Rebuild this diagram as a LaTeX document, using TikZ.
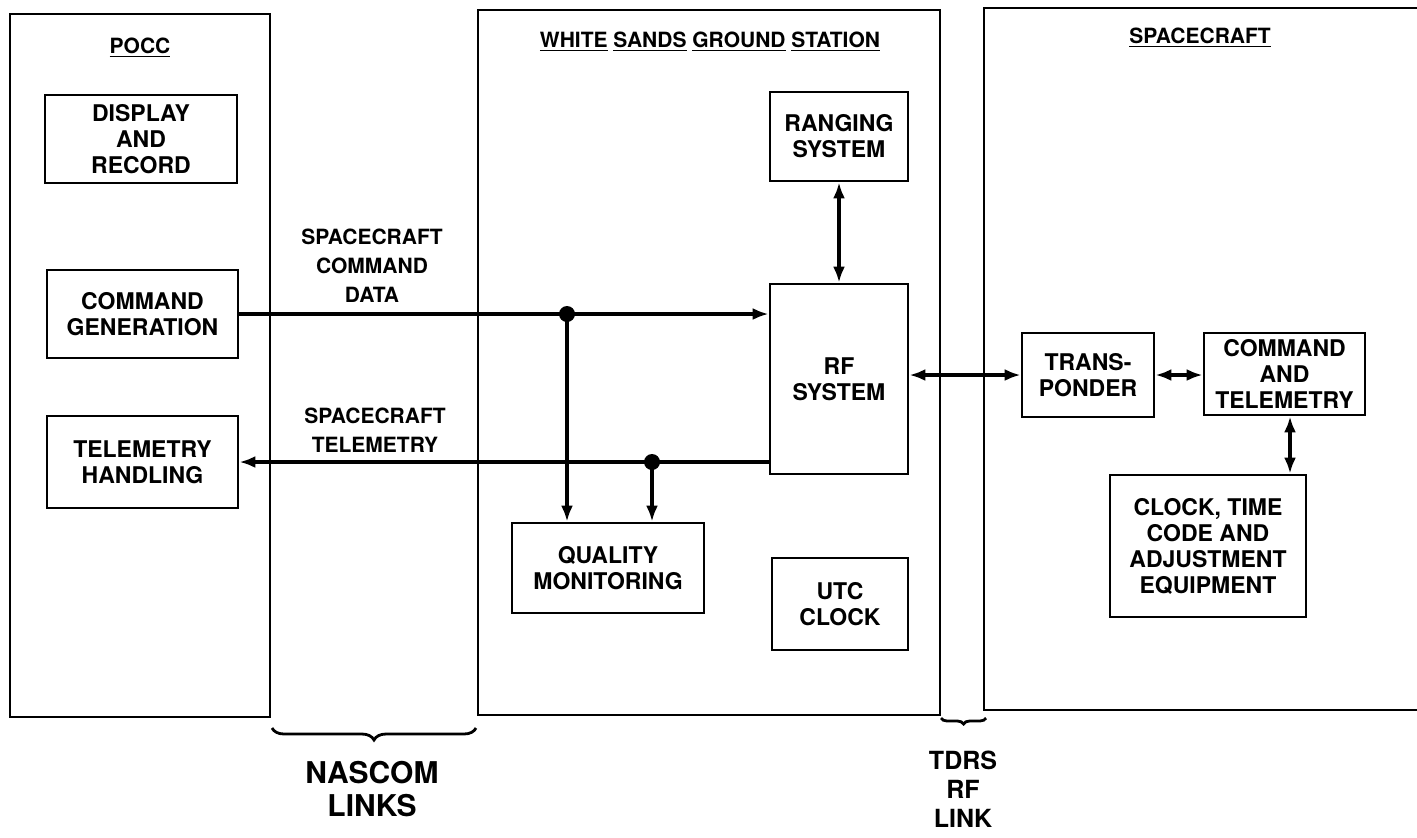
\documentclass[tikz,border=0pt]{standalone}
\usepackage{fontspec}
\setmainfont{TeX Gyre Heros}
\usetikzlibrary{arrows.meta,decorations.pathreplacing}
\tikzset{
  group/.style={draw, line width=1.4pt, inner sep=0pt},
  grouptitle/.style={font=\bfseries\fontsize{10.5}{12}\selectfont},
  block/.style={draw, line width=1.4pt, align=center, inner sep=2pt,
                font=\bfseries\fontsize{11.5}{13}\selectfont},
  linklabel/.style={align=center, font=\bfseries\fontsize{10.5}{14.5}\selectfont},
  link/.style={line width=1.7pt, -{Latex[length=8pt,width=6pt]}},
  duplex/.style={line width=1.7pt, {Latex[length=8pt,width=6pt]}-{Latex[length=8pt,width=6pt]}},
  junction/.style={circle, fill, inner sep=0pt, minimum size=8pt},
  bracelink/.style={decorate, decoration={brace, mirror}, line width=1.4pt}
}

\begin{document}
\begin{tikzpicture}[x=0.5pt, y=-0.5pt]
  \useasboundingbox[fill=white] (0,0) rectangle (1417,837);

  % the three sites
  \node[group, minimum width=130pt, minimum height=351.5pt] (pocc) at (140,365.5) {};
  \node[group, minimum width=231pt, minimum height=352.5pt] (wsgs) at (709,362.5) {};
  \node[group, minimum width=219pt, minimum height=351pt] (sc) at (1203,359) {};
  \node[grouptitle] (pocctitle) at (140,48) {\underline{POCC}};
  \node[grouptitle] (wsgstitle) at (710,42)
    {\underline{WHITE} \underline{SANDS} \underline{GROUND} \underline{STATION}};
  \node[grouptitle] (sctitle) at (1200,38) {\underline{SPACECRAFT}};

  % POCC
  \node[block, minimum width=96pt, minimum height=44pt] (display) at (141,139) {DISPLAY\\AND\\RECORD};
  \node[block, minimum width=95.5pt, minimum height=44pt] (cmdgen) at (142.5,314) {COMMAND\\GENERATION};
  \node[block, minimum width=95.5pt, minimum height=46pt] (telhand) at (142.5,462) {TELEMETRY\\HANDLING};

  % ground station
  \node[block, minimum width=69pt, minimum height=44.5pt] (ranging) at (839,136.5) {RANGING\\SYSTEM};
  \node[block, minimum width=69pt, minimum height=95pt] (rf) at (839,379) {RF\\SYSTEM};
  \node[block, minimum width=96pt, minimum height=45pt] (quality) at (608,568) {QUALITY\\MONITORING};
  \node[block, minimum width=68pt, minimum height=46pt] (utc) at (840,604) {UTC\\CLOCK};

  % spacecraft
  \node[block, minimum width=66pt, minimum height=42pt] (xpdr) at (1088,375) {TRANS-\\PONDER};
  \node[block, minimum width=80.5pt, minimum height=41pt] (cmdtel) at (1284.5,374) {COMMAND\\AND\\TELEMETRY};
  \node[block, minimum width=98pt, minimum height=71pt] (clock) at (1208,546)
    {CLOCK, TIME\\CODE AND\\ADJUSTMENT\\EQUIPMENT};

  % NASCOM links
  \node[junction] (cmddot) at (567,314) {};
  \node[junction] (teldot) at (652,462) {};
  \draw[link] (cmdgen.east) -- (cmdgen.east -| rf.west);
  \draw[link] (rf.west |- telhand.east) -- (telhand.east);
  \draw[link] (cmddot.center) -- (cmddot |- quality.north);
  \draw[link] (teldot.center) -- (teldot |- quality.north);
  \node[linklabel] (cmdlabel) at (372,266) {SPACECRAFT\\COMMAND\\DATA};
  \node[linklabel] (tellabel) at (375,430) {SPACECRAFT\\TELEMETRY};

  % RF links
  \draw[duplex] (ranging.south) -- (rf.north);
  \draw[duplex] (rf.east |- xpdr.west) -- (xpdr.west);
  \draw[duplex] (xpdr.east) -- (xpdr.east -| cmdtel.west);
  \draw[duplex] (cmdtel.south -| 1290,0) -- (clock.north -| 1290,0);

  % braces
  \draw[bracelink, decoration={amplitude=6pt}] (272,728) -- (476,728);
  \draw[bracelink, decoration={amplitude=3pt}] (941,718) -- (986,718);
  \node[align=center, font=\bfseries\fontsize{15}{16.5}\selectfont] (nascom) at (372,789) {NASCOM\\LINKS};
  \node[align=center, font=\bfseries\fontsize{12.5}{14.5}\selectfont] (tdrs) at (963,789) {TDRS\\RF\\LINK};
\end{tikzpicture}
\end{document}
